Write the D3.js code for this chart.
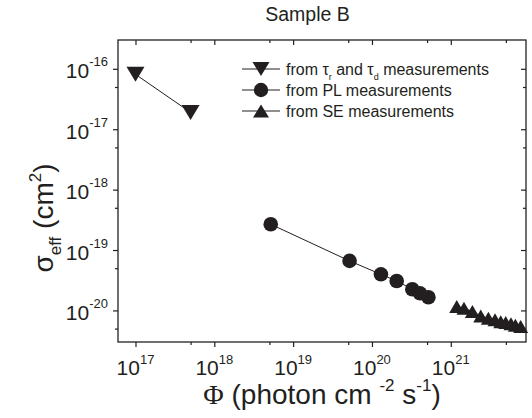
<!DOCTYPE html>
<html>
<head>
<meta charset="utf-8">
<script src="https://cdn.jsdelivr.net/npm/d3@7"></script>
<style>
  body { margin: 0; background: #fff; }
  svg { display: block; }
  text { font-family: "Liberation Sans", Arial, sans-serif; fill: #231f20; }
</style>
</head>
<body>
<svg id="chart" width="532" height="418"></svg>
<script>
////////////////////
//     DATA      ///
////////////////////

// photon flux (x) and effective cross section (y) for each method
var tauFlux  = [1e17, 5e17];
var tauSigma = [8.1e-17, 1.9e-17];

var plFlux  = [5.2e18, 5.2e19, 1.3e20, 2.06e20, 3.25e20, 4.07e20, 5.2e20];
var plSigma = [2.67e-19, 6.6e-20, 3.96e-20, 3.07e-20, 2.24e-20, 1.92e-20, 1.65e-20];

var seFlux  = [1.19e21, 1.47e21, 1.88e21, 2.4e21, 3.0e21, 3.64e21, 4.3e21, 4.98e21, 5.8e21, 6.6e21, 7.7e21];
var seSigma = [1.16e-20, 1.09e-20, 9.6e-21, 8.1e-21, 7.4e-21, 7.0e-21, 6.5e-21, 6.3e-21, 6.0e-21, 5.7e-21, 5.4e-21];

// ticks
var xMajor = [1e17, 1e18, 1e19, 1e20, 1e21];
var xMinor = [5e17, 5e18, 5e19, 5e20, 5e21];
var xExp   = ["17", "18", "19", "20", "21"];
var yMajor = [1e-16, 1e-17, 1e-18, 1e-19, 1e-20];
var yMinor = [5e-17, 5e-18, 5e-19, 5e-20, 5e-21];
var yExp   = ["-16", "-17", "-18", "-19", "-20"];

var legendNames = ["tau", "PL", "SE"];

////////////////////
//    OPTIONS    ///
////////////////////
var w = 532, h = 418;
var pad = {left: 118, top: 40, right: 6, bottom: 76};
var ink = "#231f20";

var svg = d3.select("#chart");

var x = d3.scaleLog().domain([6e16, 9e21]).range([pad.left, w - pad.right]);
var y = d3.scaleLog().domain([3e-21, 3e-16]).range([h - pad.bottom, pad.top]);

// triangle path, bbox centred on the point
function tri(tw, th, down) {
  var s = down ? -1 : 1;
  return "M0," + (-s * th / 2) + "L" + (tw / 2) + "," + (s * th / 2) + "L" + (-tw / 2) + "," + (s * th / 2) + "Z";
}

////////////////////
//     AXES      ///
////////////////////
function drawAxis(axisFn, scale, transform, len, minorLen) {
  var g = svg.append("g").attr("transform", transform)
    .call(axisFn(scale).tickValues(xMajor === null ? [] : (scale === x ? xMajor.concat(xMinor) : yMajor.concat(yMinor)))
      .tickSize(len).tickFormat(""));
  g.select(".domain").remove();
  g.selectAll(".tick line").attr("stroke", ink).attr("stroke-width", 1.2);
  var minors = scale === x ? xMinor : yMinor;
  g.selectAll(".tick").filter(function(d) { return minors.indexOf(d) >= 0; })
    .select("line").each(function() {
      var l = d3.select(this);
      if (l.attr("x2") !== null && +l.attr("x2") !== 0) l.attr("x2", minorLen);
      if (l.attr("y2") !== null && +l.attr("y2") !== 0) l.attr("y2", minorLen);
    });
  return g;
}

drawAxis(d3.axisBottom, x, "translate(0," + (h - pad.bottom) + ")", 5, 3);
drawAxis(d3.axisTop, x, "translate(0," + pad.top + ")", -5, 3);
drawAxis(d3.axisLeft, y, "translate(" + pad.left + ",0)", 5, -3);
drawAxis(d3.axisRight, y, "translate(" + (w - pad.right) + ",0)", -5, -3);

svg.append("rect")
  .attr("x", pad.left).attr("y", pad.top)
  .attr("width", w - pad.left - pad.right).attr("height", h - pad.top - pad.bottom)
  .attr("fill", "none").attr("stroke", ink).attr("stroke-width", 1.3);

// tick labels 10^n
xMajor.forEach(function(v, i) {
  var t = svg.append("text").attr("x", x(v)).attr("y", 375)
    .attr("text-anchor", "middle").style("font-size", "21px");
  t.append("tspan").text("10");
  t.append("tspan").attr("dy", -11).style("font-size", "13px").text(xExp[i]);
});
yMajor.forEach(function(v, i) {
  var t = svg.append("text").attr("x", 108).attr("y", y(v) + 9.5)
    .attr("text-anchor", "end").style("font-size", "21px");
  t.append("tspan").text("10");
  t.append("tspan").attr("dy", -12).style("font-size", "13px").text(yExp[i]);
});

// titles
svg.append("text").attr("x", 307.5).attr("y", 21).attr("text-anchor", "middle")
  .style("font-size", "19.5px").text("Sample B");

var xt = svg.append("text").attr("x", (pad.left + w - pad.right) / 2).attr("y", 404)
  .attr("text-anchor", "middle").style("font-size", "28px");
xt.append("tspan").style("font-family", "Liberation Serif, serif").text("\u03A6");
xt.append("tspan").text(" (photon cm ");
xt.append("tspan").attr("dy", -13).style("font-size", "17px").text("-2");
xt.append("tspan").attr("dy", 13).text(" s");
xt.append("tspan").attr("dy", -13).style("font-size", "17px").text("-1");
xt.append("tspan").attr("dy", 13).text(")");

var yt = svg.append("text").attr("transform", "translate(53,218) rotate(-90)")
  .attr("text-anchor", "middle").style("font-size", "28px");
yt.append("tspan").text("\u03C3");
yt.append("tspan").attr("dy", 8).style("font-size", "17px").text("eff");
yt.append("tspan").attr("dy", -8).text(" (cm");
yt.append("tspan").attr("dy", -12).style("font-size", "17px").text("2");
yt.append("tspan").attr("dy", 12).text(")");

////////////////////
//     DATA      ///
////////////////////
var line = d3.line().x(function(d) { return x(d[0]); }).y(function(d) { return y(d[1]); });
var series = [
  {xs: tauFlux, ys: tauSigma, shape: "down"},
  {xs: plFlux,  ys: plSigma,  shape: "circle"},
  {xs: seFlux,  ys: seSigma,  shape: "up"}
];

function marker(g, shape, big) {
  if (shape === "circle") {
    g.append("circle").attr("r", big ? 7.3 : 7.2).attr("fill", ink);
  } else if (shape === "down") {
    g.append("path").attr("d", big ? tri(18, 15, true) : tri(17, 14, true)).attr("fill", ink);
  } else {
    g.append("path").attr("d", big ? tri(15, 13, false) : tri(16, 13, false)).attr("fill", ink);
  }
}

series.forEach(function(s) {
  var pts = s.xs.map(function(v, i) { return [v, s.ys[i]]; });
  svg.append("path").datum(pts).attr("d", line)
    .attr("fill", "none").attr("stroke", ink).attr("stroke-width", 1);
  pts.forEach(function(p) {
    var g = svg.append("g").attr("transform", "translate(" + x(p[0]) + "," + y(p[1]) + ")");
    marker(g, s.shape, true);
  });
});

////////////////////
//    LEGEND     ///
////////////////////
var legY = [69, 90, 111];
legendNames.forEach(function(name, i) {
  var g = svg.append("g").attr("transform", "translate(0," + legY[i] + ")");
  g.append("line").attr("x1", 242).attr("x2", 280).attr("y1", 0).attr("y2", 0)
    .attr("stroke", ink).attr("stroke-width", 1);
  var m = g.append("g").attr("transform", "translate(261,0)");
  marker(m, series[i].shape, false);
  var t = g.append("text").attr("x", 286).attr("y", 6).style("font-size", "16px");
  if (name === "tau") {
    t.append("tspan").text("from \u03C4");
    t.append("tspan").attr("dy", 5).style("font-size", "9px").text("r");
    t.append("tspan").attr("dy", -5).text(" and \u03C4");
    t.append("tspan").attr("dy", 5).style("font-size", "9px").text("d");
    t.append("tspan").attr("dy", -5).text(" measurements");
  } else {
    t.text("from " + name + " measurements");
  }
});
</script>
</body>
</html>
